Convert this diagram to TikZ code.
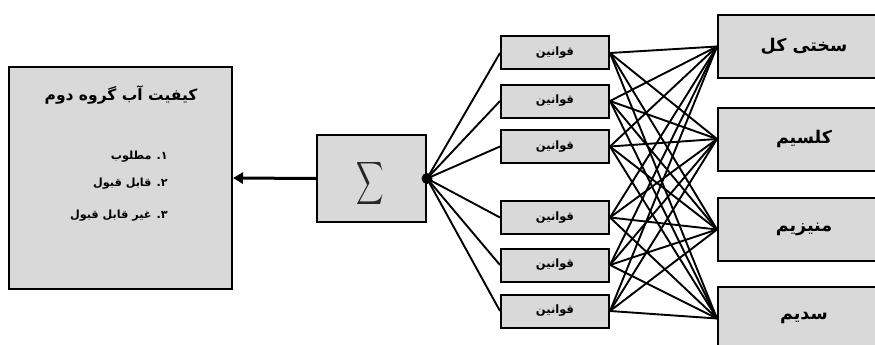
\documentclass[tikz,border=0pt]{standalone}
\usepackage{fontspec}
\usetikzlibrary{arrows.meta}
\TeXXeTstate=1
\newfontfamily\fa[Script=Arabic]{DejaVu Sans}
\definecolor{boxgray}{HTML}{D9D9D9}
\tikzset{
  gbox/.style={draw=black, line width=2pt, fill=boxgray, rectangle, inner sep=0pt},
  rulebox/.style={gbox, minimum width=108pt, minimum height=33pt, font=\fa\bfseries\fontsize{11.5}{14}\selectfont},
  varbox/.style={gbox, minimum width=172pt, minimum height=63pt, font=\fa\bfseries\fontsize{17.5}{19}\selectfont},
  wire/.style={line width=1.9pt, black},
  txt/.style={inner sep=0pt}
}
\begin{document}
\begin{tikzpicture}[x=1pt,y=-1pt]
\useasboundingbox (0,0) rectangle (875,345);
\clip (0,0) rectangle (875,345);
% left result box
\node[gbox, minimum width=223pt, minimum height=222pt] (res) at (120.5,178) {};
\node[txt, font=\fa\bfseries\fontsize{15.5}{18}\selectfont] (title) at (121,95) {\beginR کیفیت آب گروه دوم\endR};
\node[txt, anchor=east, font=\fa\bfseries\fontsize{11.2}{14}\selectfont] (i1) at (168,157) {\beginR ۱. مطلوب\endR};
\node[txt, anchor=east, font=\fa\bfseries\fontsize{11.2}{14}\selectfont] (i2) at (168,184) {\beginR ۲. قابل قبول\endR};
\node[txt, anchor=east, font=\fa\bfseries\fontsize{11.2}{14}\selectfont] (i3) at (168,216) {\beginR ۳. غیر قابل قبول\endR};
% sigma box
\node[gbox, minimum width=109pt, minimum height=87pt] (sig) at (371.5,178.5) {};
\node[txt, text=black!85] (sigsym) at (370,183) {\scalebox{1.9}[3]{$\displaystyle\sum$}};
% rule boxes
\foreach \n/\y in {1/53,2/101,3/146.5,4/217.5,5/265,6/311}{
  \node[rulebox] (r\n) at (555,\y) {\beginR قوانین\endR};
}
% variable boxes
\node[varbox] (v1) at (804,46.5) {\beginR سختی کل\endR};
\node[varbox] (v2) at (804,139) {\beginR کلسیم\endR};
\node[varbox] (v3) at (804,229.5) {\beginR منیزیم\endR};
\node[varbox] (v4) at (804,318.5) {\beginR سدیم\endR};
% wires
\foreach \n in {1,...,6}{
  \draw[wire] (sig.east) -- (r\n.west);
  \foreach \m in {1,...,4}{
    \draw[wire] (r\n.east) -- (v\m.west);
  }
}
\fill[black] (sig.east) circle (5.5pt);
% arrow
\draw[line width=3pt, -{Triangle[length=10pt,width=11pt]}] (sig.west) -- (res.east);
\end{tikzpicture}
\end{document}
